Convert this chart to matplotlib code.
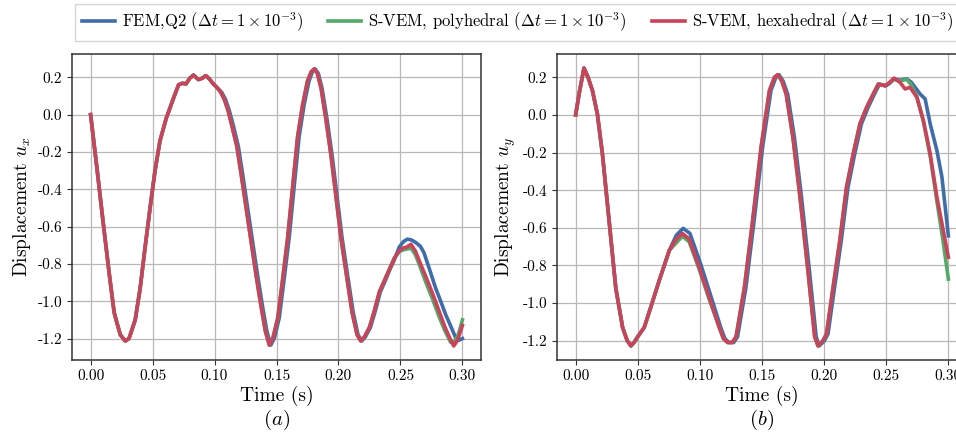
import numpy as np
import matplotlib
matplotlib.use("Agg")
import matplotlib.pyplot as plt

plt.rcParams["font.family"] = "serif"
plt.rcParams["font.serif"] = ["cmr10"]
plt.rcParams["mathtext.fontset"] = "cm"
plt.rcParams["axes.formatter.use_mathtext"] = True
plt.rcParams["axes.unicode_minus"] = True

# ---- data ----
# (a) displacement u_x
ux_t_head = [0, .005, .010, .015, .019, .021, .024, .028, .031, .036,
             .040, .044, .048, .052, .056, .061, .067, .071, .074, .077,
             .080, .083, .087, .090, .093, .096, .099]
ux_head = [0, -0.28, -0.57, -0.85, -1.06, -1.11, -1.18, -1.213, -1.20, -1.10,
           -0.93, -0.71, -0.50, -0.30, -0.14, -0.02, 0.09, 0.16, 0.168, 0.165,
           0.195, 0.212, 0.188, 0.195, 0.209, 0.19, 0.165]

ux_t_mid = [0.102, 0.105, 0.108, 0.111, 0.114, 0.118, 0.1215, 0.1255, 0.1295, 0.1335,
            0.1376, 0.141, 0.1442, 0.147, 0.151, 0.155, 0.159, 0.163, 0.167, 0.171,
            0.175, 0.178, 0.1805, 0.183, 0.186, 0.190, 0.194, 0.198, 0.202, 0.206,
            0.211, 0.215, 0.218, 0.221, 0.225, 0.229, 0.233, 0.237, 0.241]
ux_t_mid_fem = [0.102, 0.1058, 0.109, 0.112, 0.1152, 0.1192, 0.1227, 0.1267, 0.1307, 0.1347,
                0.1388, 0.1422, 0.1454, 0.1482, 0.1522, 0.1562, 0.1602, 0.1642, 0.1682, 0.1722,
                0.1762, 0.179, 0.1812, 0.1838, 0.1868, 0.1909, 0.1949, 0.1989, 0.2029, 0.2069,
                0.2119, 0.2158, 0.2188, 0.2218, 0.2258, 0.2298, 0.2338, 0.2378, 0.2415]
ux_mid = [0.145, 0.12, 0.08, 0.02, -0.06, -0.17, -0.32, -0.50, -0.68, -0.86,
          -1.03, -1.16, -1.235, -1.20, -1.09, -0.88, -0.66, -0.39, -0.12, 0.05,
          0.18, 0.23, 0.245, 0.22, 0.14, -0.03, -0.22, -0.44, -0.66, -0.84,
          -1.06, -1.18, -1.213, -1.19, -1.14, -1.05, -0.95, -0.89, -0.83]

ux_t_tail_fem = [0.245, 0.249, 0.2525, 0.2556, 0.259, 0.2623, 0.266, 0.269, 0.274, 0.2784,
                 0.2825, 0.2864, 0.291, 0.2945, 0.297, 0.300]
ux_tail_fem = [-0.78, -0.71, -0.68, -0.667, -0.672, -0.685, -0.705, -0.74, -0.84, -0.93,
               -1.00, -1.07, -1.14, -1.195, -1.21, -1.20]
ux_t_tail_poly = [0.245, 0.249, 0.252, 0.2555, 0.2585, 0.262, 0.265, 0.270, 0.276, 0.281,
                  0.286, 0.2905, 0.293, 0.296, 0.298, 0.300]
ux_tail_poly = [-0.77, -0.735, -0.725, -0.72, -0.715, -0.75, -0.80, -0.89, -0.99, -1.08,
                -1.16, -1.22, -1.22, -1.19, -1.15, -1.10]
ux_t_tail_hex = [0.245, 0.249, 0.252, 0.255, 0.2585, 0.262, 0.265, 0.270, 0.276, 0.281,
                 0.286, 0.290, 0.293, 0.296, 0.298, 0.300]
ux_tail_hex = [-0.77, -0.73, -0.715, -0.71, -0.695, -0.73, -0.78, -0.86, -0.96, -1.05,
               -1.14, -1.20, -1.24, -1.21, -1.17, -1.13]

# (b) displacement u_y
uy_t_head = [0, 0.003, 0.0067, 0.010, 0.0135, 0.0175, 0.0216, 0.0269, 0.0323, 0.0378,
             0.0415, 0.0445, 0.047, 0.0499, 0.0552, 0.0606, 0.0673, 0.0754]
uy_head = [0, 0.12, 0.249, 0.20, 0.13, 0.005, -0.21, -0.56, -0.92, -1.13,
           -1.20, -1.228, -1.21, -1.18, -1.13, -1.02, -0.88, -0.72]

uy_t_mid = [0.081, 0.0859, 0.0914, 0.0994, 0.1075, 0.1156, 0.119, 0.1223, 0.126, 0.1291,
            0.1358, 0.1425, 0.1493, 0.156, 0.160, 0.1627, 0.166, 0.1695, 0.1749, 0.1803,
            0.187, 0.1924, 0.1951, 0.1991, 0.2019, 0.2072, 0.2126, 0.218, 0.2234, 0.2288,
            0.2342, 0.2395, 0.2436, 0.249, 0.2517, 0.2563]
uy_mid_hex = [-0.66, -0.63, -0.66, -0.81, -0.97, -1.13, -1.19, -1.21, -1.21, -1.18,
              -0.92, -0.56, -0.17, 0.13, 0.20, 0.214, 0.18, 0.11, -0.12, -0.42,
              -0.83, -1.18, -1.228, -1.20, -1.165, -0.917, -0.669, -0.385, -0.208, -0.048,
              0.04, 0.111, 0.164, 0.155, 0.167, 0.196]
uy_mid_poly = [-0.68, -0.645, -0.675, -0.82, -0.98, -1.13, -1.19, -1.21, -1.21, -1.18,
               -0.92, -0.56, -0.17, 0.13, 0.20, 0.214, 0.18, 0.11, -0.12, -0.42,
               -0.83, -1.18, -1.228, -1.20, -1.165, -0.917, -0.669, -0.385, -0.208, -0.048,
               0.04, 0.111, 0.164, 0.155, 0.167, 0.19]
uy_t_mid_fem = [0.081, 0.0865, 0.092, 0.1005, 0.1087, 0.1168, 0.1202, 0.1235, 0.1272, 0.1303,
                0.137, 0.1437, 0.1505, 0.1572, 0.1612, 0.1637, 0.167, 0.1707, 0.1761, 0.1815,
                0.1882, 0.1936, 0.1961, 0.2003, 0.2031, 0.2084, 0.2138, 0.2192, 0.2246, 0.23,
                0.2354, 0.2405, 0.2446, 0.2498, 0.2525, 0.2563]
uy_mid_fem = [-0.64, -0.603, -0.63, -0.79, -0.96, -1.13, -1.19, -1.21, -1.21, -1.18,
              -0.92, -0.56, -0.17, 0.13, 0.20, 0.214, 0.18, 0.11, -0.12, -0.42,
              -0.83, -1.18, -1.228, -1.20, -1.165, -0.917, -0.669, -0.385, -0.208, -0.048,
              0.04, 0.111, 0.164, 0.155, 0.167, 0.19]

uy_t_tail_fem = [0.2611, 0.2665, 0.270, 0.2773, 0.2813, 0.2854, 0.2908, 0.2948, 0.300]
uy_tail_fem = [0.185, 0.192, 0.175, 0.111, 0.085, -0.048, -0.19, -0.33, -0.643]
uy_t_tail_poly = [0.2611, 0.2665, 0.270, 0.2746, 0.280, 0.2854, 0.2908, 0.2955, 0.300]
uy_tail_poly = [0.18, 0.19, 0.16, 0.10, -0.04, -0.22, -0.46, -0.66, -0.873]
uy_t_tail_hex = [0.2611, 0.2652, 0.2692, 0.2746, 0.280, 0.2854, 0.2908, 0.2955, 0.300]
uy_tail_hex = [0.173, 0.138, 0.147, 0.094, -0.031, -0.208, -0.438, -0.60, -0.757]

labels = [r"FEM,Q2 ($\Delta t = 1 \times 10^{-3}$)",
          r"S-VEM, polyhedral ($\Delta t = 1 \times 10^{-3}$)",
          r"S-VEM, hexahedral ($\Delta t = 1 \times 10^{-3}$)"]
colors = ["#3F6DAA", "#55A868", "#C9435A"]

ux_series = [
    (ux_t_head + ux_t_mid_fem + ux_t_tail_fem, ux_head + ux_mid + ux_tail_fem),
    (ux_t_head + ux_t_mid + ux_t_tail_poly, ux_head + ux_mid + ux_tail_poly),
    (ux_t_head + ux_t_mid + ux_t_tail_hex, ux_head + ux_mid + ux_tail_hex),
]
uy_series = [
    (uy_t_head + uy_t_mid_fem + uy_t_tail_fem, uy_head + uy_mid_fem + uy_tail_fem),
    (uy_t_head + uy_t_mid + uy_t_tail_poly, uy_head + uy_mid_poly + uy_tail_poly),
    (uy_t_head + uy_t_mid + uy_t_tail_hex, uy_head + uy_mid_hex + uy_tail_hex),
]

fig = plt.figure(figsize=(9.56, 4.36), dpi=100)
ax1 = fig.add_axes([72 / 956, 76 / 436, 409 / 956, 306 / 436])
ax2 = fig.add_axes([557 / 956, 76 / 436, 410 / 956, 306 / 436])

for ax, series, ylab, cap in [(ax1, ux_series, r"Displacement $u_x$", r"$(a)$"),
                              (ax2, uy_series, r"Displacement $u_y$", r"$(b)$")]:
    for (t, u), c, lab in zip(series, colors, labels):
        ax.plot(t, u, color=c, lw=2.6, label=lab)
    ax.set_xlim(-0.015, 0.315)
    ax.set_xticks([0, 0.05, 0.10, 0.15, 0.20, 0.25, 0.30])
    ax.set_yticks([0.2, 0.0, -0.2, -0.4, -0.6, -0.8, -1.0, -1.2])
    ax.xaxis.set_major_formatter(matplotlib.ticker.FormatStrFormatter("%.2f"))
    ax.yaxis.set_major_formatter(matplotlib.ticker.FormatStrFormatter("%.1f"))
    ax.grid(True, color="#b8b8b8", lw=0.9)
    ax.set_axisbelow(True)
    ax.tick_params(labelsize=11, length=3.5, color="#333333")
    for s in ax.spines.values():
        s.set_color("#333333")
        s.set_linewidth(1.1)
    ax.set_xlabel("Time (s)", fontsize=14, labelpad=2)
    ax.set_ylabel(ylab, fontsize=14, labelpad=3)
    ax.text(0.5, -0.196, cap, transform=ax.transAxes, ha="center", va="center", fontsize=15)

ax1.set_ylim(-1.315, 0.325)
ax2.set_ylim(-1.303, 0.324)

handles, labs = ax1.get_legend_handles_labels()
fig.legend(handles, labs, loc="upper left", bbox_to_anchor=(75 / 956, 1 - 4 / 436),
           borderaxespad=0, ncol=3, fontsize=12, frameon=True, fancybox=False,
           edgecolor="#cccccc", handlelength=2.0, handletextpad=0.4,
           columnspacing=1.5, borderpad=0.4)

fig.savefig("out.png", dpi=100)
